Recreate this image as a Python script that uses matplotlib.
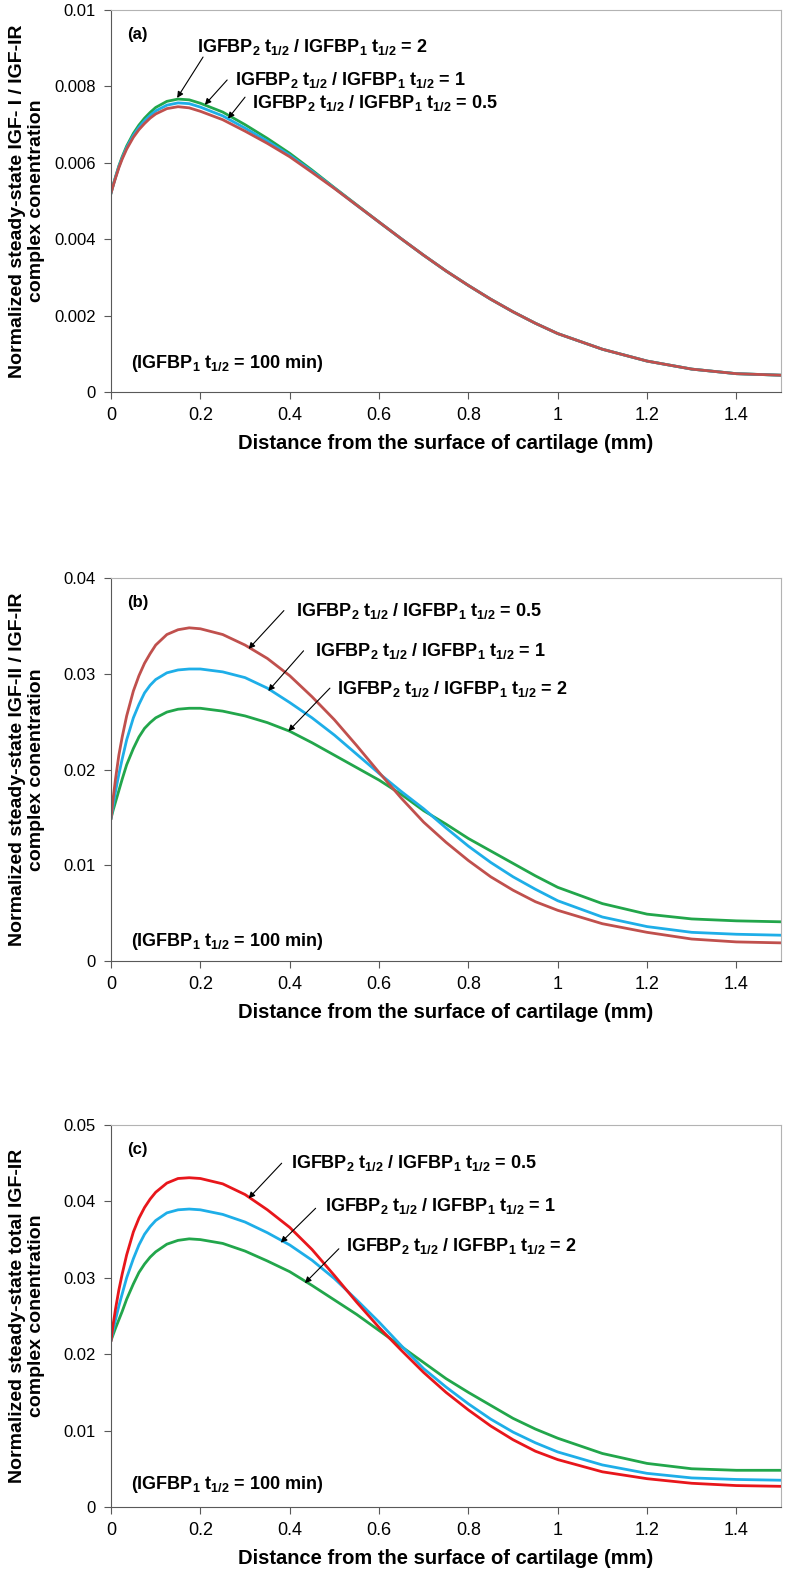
import matplotlib
matplotlib.use("Agg")
import matplotlib.pyplot as plt
from matplotlib import font_manager

# fuentes: Arial estrecha si existe
nombres = {f.name for f in font_manager.fontManager.ttflist}
narrow = "Liberation Sans Narrow" if "Liberation Sans Narrow" in nombres else "Liberation Sans"
plt.rcParams["font.family"] = ["Liberation Sans", "DejaVu Sans"]
plt.rcParams["mathtext.default"] = "regular"

# distancia desde la superficie (mm)
dist = [0, 0.005, 0.01, 0.0175, 0.025, 0.035, 0.05, 0.0625, 0.075, 0.0875, 0.1, 0.125, 0.15,
        0.175, 0.2, 0.25, 0.3, 0.35, 0.4, 0.45, 0.5, 0.55, 0.6, 0.65, 0.7, 0.75, 0.8, 0.85,
        0.9, 0.95, 1.0, 1.1, 1.2, 1.3, 1.4, 1.5]

# (a) IGF-I / IGF-IR
a_05 = [0.00521, 0.00541, 0.0056, 0.00587, 0.0061, 0.00636, 0.00667, 0.00687, 0.00703, 0.00717,
        0.00728, 0.00742, 0.00747, 0.00744, 0.00735, 0.00713, 0.00683, 0.00651, 0.00616, 0.00575,
        0.00533, 0.00489, 0.00445, 0.00401, 0.00358, 0.00317, 0.00279, 0.00243, 0.0021, 0.0018,
        0.00153, 0.00112, 0.00081, 0.0006, 0.00048, 0.00044]
a_1 = [0.00521, 0.00542, 0.00562, 0.0059, 0.00613, 0.0064, 0.00672, 0.00693, 0.0071, 0.00724,
       0.00736, 0.00751, 0.00757, 0.00755, 0.00746, 0.00723, 0.00691, 0.00657, 0.0062, 0.00578,
       0.00534, 0.00489, 0.00445, 0.00401, 0.00358, 0.00317, 0.00279, 0.00243, 0.0021, 0.0018,
       0.00153, 0.00112, 0.00081, 0.0006, 0.00048, 0.00044]
a_2 = [0.00521, 0.00543, 0.00563, 0.00592, 0.00616, 0.00644, 0.00677, 0.00699, 0.00717, 0.00732,
       0.00745, 0.00761, 0.00767, 0.00765, 0.00756, 0.00733, 0.007, 0.00664, 0.00625, 0.00581,
       0.00535, 0.0049, 0.00445, 0.00401, 0.00358, 0.00317, 0.00279, 0.00243, 0.0021, 0.0018,
       0.00153, 0.00112, 0.00081, 0.0006, 0.00048, 0.00044]

# (b) IGF-II / IGF-IR
b_05 = [0.0149, 0.0171, 0.019, 0.0215, 0.0234, 0.0256, 0.0282, 0.0298, 0.0311, 0.0321, 0.033,
        0.0341, 0.0346, 0.0348, 0.0347, 0.0341, 0.033, 0.0316, 0.0298, 0.0276, 0.0252, 0.0225,
        0.0197, 0.017, 0.0145, 0.0124, 0.0105, 0.0088, 0.0074, 0.0062, 0.0053, 0.0039, 0.003,
        0.0023, 0.002, 0.0019]
b_1 = [0.0149, 0.0163, 0.0177, 0.0195, 0.0211, 0.0231, 0.0254, 0.0268, 0.028, 0.0288, 0.0294,
       0.0301, 0.0304, 0.0305, 0.0305, 0.0302, 0.0296, 0.0285, 0.027, 0.0254, 0.0236, 0.0216,
       0.0196, 0.0177, 0.0159, 0.0139, 0.012, 0.0103, 0.0088, 0.0075, 0.0063, 0.0046, 0.0036,
       0.003, 0.0028, 0.0027]
b_2 = [0.0149, 0.0158, 0.0166, 0.0178, 0.019, 0.0205, 0.0222, 0.0234, 0.0243, 0.0249, 0.0254,
       0.026, 0.0263, 0.0264, 0.0264, 0.0261, 0.0256, 0.0249, 0.024, 0.0228, 0.0215, 0.0202,
       0.0189, 0.0174, 0.0157, 0.0143, 0.0128, 0.0115, 0.0102, 0.0089, 0.0077, 0.006, 0.0049,
       0.0044, 0.0042, 0.0041]

# (c) total IGF-IR
c_05 = [0.0218, 0.024, 0.0259, 0.0284, 0.0305, 0.033, 0.036, 0.0378, 0.0392, 0.0403, 0.0412,
        0.0424, 0.043, 0.0431, 0.043, 0.0423, 0.0409, 0.0389, 0.0366, 0.0337, 0.0303, 0.0268,
        0.0235, 0.0205, 0.0176, 0.015, 0.0127, 0.0106, 0.0088, 0.0073, 0.0062, 0.0046, 0.0037,
        0.0031, 0.0028, 0.0027]
c_1 = [0.0218, 0.0232, 0.0245, 0.0263, 0.0279, 0.03, 0.0325, 0.0343, 0.0357, 0.0367, 0.0375,
       0.0385, 0.0389, 0.039, 0.0389, 0.0383, 0.0373, 0.0359, 0.0343, 0.0323, 0.0299, 0.0271,
       0.0242, 0.0211, 0.0181, 0.0157, 0.0135, 0.0115, 0.0098, 0.0084, 0.0072, 0.0055, 0.0044,
       0.0038, 0.0036, 0.0035]
c_2 = [0.0218, 0.0226, 0.0234, 0.0245, 0.0256, 0.0272, 0.0292, 0.0307, 0.0318, 0.0327, 0.0334,
       0.0344, 0.0349, 0.0351, 0.035, 0.0345, 0.0335, 0.0322, 0.0308, 0.029, 0.0271, 0.0252,
       0.0231, 0.021, 0.0189, 0.0168, 0.015, 0.0133, 0.0116, 0.0102, 0.009, 0.007, 0.0057,
       0.005, 0.0048, 0.0048]

ylabels = ["Normalized steady-state IGF- I / IGF-IR\ncomplex conentration",
           "Normalized steady-state IGF-II / IGF-IR\ncomplex conentration",
           "Normalized steady-state total IGF-IR\ncomplex conentration"]
paneles = ["(a)", "(b)", "(c)"]
ymax = [0.01, 0.04, 0.05]
ypaso = [0.002, 0.01, 0.01]
xticks = [0, 0.2, 0.4, 0.6, 0.8, 1.0, 1.2, 1.4]
xticklabels = ["0", "0.2", "0.4", "0.6", "0.8", "1", "1.2", "1.4"]

rojo, azul, verde = "#c0504d", "#1eaee8", "#22a64b"
rojo_c = "#e8161b"
series = [[(a_2, verde), (a_1, azul), (a_05, rojo)],
          [(b_2, verde), (b_1, azul), (b_05, rojo)],
          [(c_2, verde), (c_1, azul), (c_05, rojo_c)]]

def etiqueta(r):
    return "IGFBP$_2$ t$_{1/2}$ / IGFBP$_1$ t$_{1/2}$ = " + r

# (texto, pos texto, cola flecha, punta flecha)
notas = [
    [("2", (0.193, 0.00903), (0.206, 0.00877), (0.148, 0.0077)),
     ("1", (0.278, 0.00817), (0.26, 0.00817), (0.21, 0.00752)),
     ("0.5", (0.316, 0.00757), (0.3, 0.00772), (0.262, 0.00716))],
    [("0.5", (0.414, 0.0366), (0.387, 0.0366), (0.308, 0.0326)),
     ("1", (0.456, 0.0324), (0.431, 0.0324), (0.352, 0.0282)),
     ("2", (0.505, 0.0284), (0.49, 0.0285), (0.397, 0.024))],
    [("0.5", (0.402, 0.045), (0.382, 0.045), (0.308, 0.0404)),
     ("1", (0.48, 0.0394), (0.458, 0.0391), (0.38, 0.0346)),
     ("2", (0.525, 0.0341), (0.51, 0.0338), (0.434, 0.0293))],
]
# posicion vertical de la nota "(IGFBP1 ...)" en cada panel
nota_y = [0.075, 0.05, 0.058]

fig = plt.figure(figsize=(7.88, 15.75), dpi=100)
posiciones = [[0.1409, 0.7511, 0.8503, 0.2425],
              [0.1409, 0.3898, 0.8503, 0.2432],
              [0.1409, 0.0432, 0.8503, 0.2425]]

for i in range(3):
    ax = fig.add_axes(posiciones[i])
    for ys, col in series[i]:
        ax.plot(dist, ys, color=col, lw=2.0)
    ax.set_xlim(0, 1.5)
    ax.set_ylim(0, ymax[i])
    yt = [k * ypaso[i] for k in range(int(round(ymax[i] / ypaso[i])) + 1)]
    ax.set_yticks(yt)
    ax.set_yticklabels(["0"] + ["%g" % v for v in yt[1:]], fontsize=12)
    ax.set_xticks(xticks)
    ax.set_xticklabels(xticklabels, fontsize=13, family=[narrow, "DejaVu Sans"])
    ax.tick_params(direction="out", length=5, width=0.8, color="#595959", pad=6)
    for s in ["top", "right"]:
        ax.spines[s].set_color("#b3b3b3")
    for s in ["left", "bottom"]:
        ax.spines[s].set_color("#595959")
    ax.set_xlabel("Distance from the surface of cartilage (mm)", fontsize=14.5,
                  fontweight="bold", family=[narrow, "DejaVu Sans"], labelpad=7)
    ax.set_ylabel(ylabels[i], fontsize=14, fontweight="bold")
    ax.yaxis.set_label_coords(-0.098, 0.5)

    ax.text(0.024, 0.935, paneles[i], transform=ax.transAxes, fontsize=12,
            fontweight="bold", va="center")
    ax.text(0.03, nota_y[i], "(IGFBP$_1$ t$_{1/2}$ = 100 min)", transform=ax.transAxes,
            fontsize=13, fontweight="bold", family=[narrow, "DejaVu Sans"], va="center")
    for r, pt, cola, punta in notas[i]:
        ax.text(pt[0], pt[1], etiqueta(r), fontsize=13, fontweight="bold",
                family=[narrow, "DejaVu Sans"], va="center", ha="left")
        ax.annotate("", xy=punta, xytext=cola,
                    arrowprops=dict(arrowstyle="-|>", color="black", lw=0.8,
                                    mutation_scale=9, shrinkA=0, shrinkB=0))

fig.savefig("out.png", dpi=100)
